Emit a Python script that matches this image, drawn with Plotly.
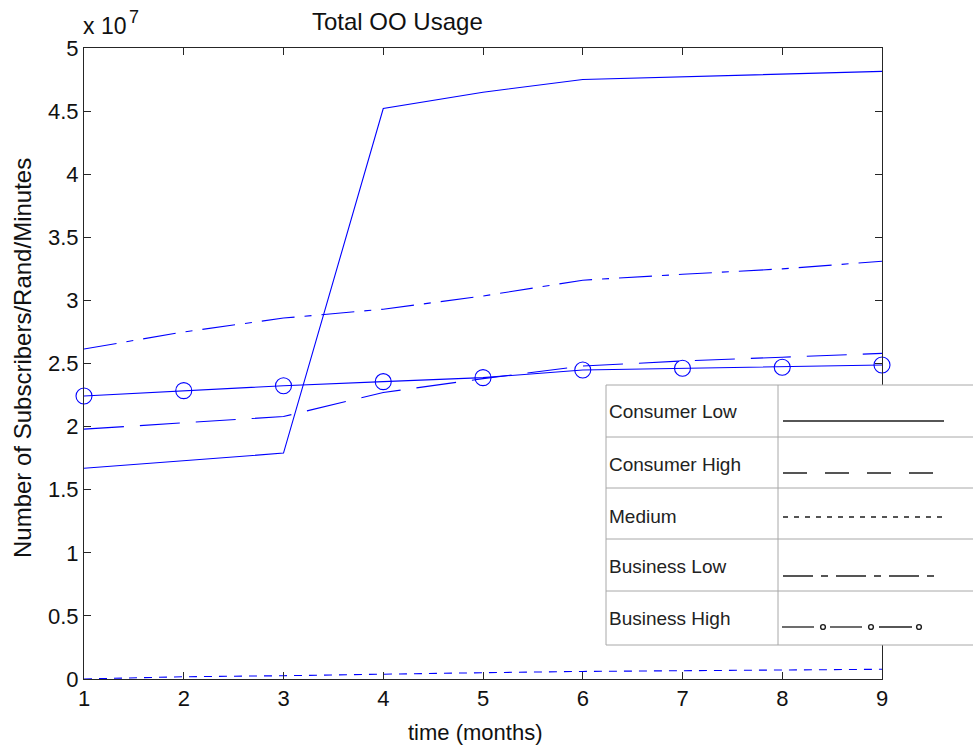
import plotly.graph_objects as go

# Monthly totals (months 1..9)
months = [1, 2, 3, 4, 5, 6, 7, 8, 9]
consumer_low = [1.67e7, 1.73e7, 1.79e7, 4.52e7, 4.65e7, 4.75e7, 4.77e7, 4.79e7, 4.815e7]
consumer_high = [1.98e7, 2.03e7, 2.08e7, 2.27e7, 2.38e7, 2.48e7, 2.52e7, 2.55e7, 2.58e7]
medium = [0.0, 0.018e7, 0.026e7, 0.04e7, 0.05e7, 0.06e7, 0.066e7, 0.072e7, 0.077e7]
business_low = [2.615e7, 2.75e7, 2.86e7, 2.93e7, 3.035e7, 3.16e7, 3.207e7, 3.25e7, 3.31e7]
business_high = [2.243e7, 2.285e7, 2.324e7, 2.356e7, 2.388e7, 2.449e7, 2.462e7, 2.47e7, 2.488e7]

y_tick_vals = [0, 0.5e7, 1e7, 1.5e7, 2e7, 2.5e7, 3e7, 3.5e7, 4e7, 4.5e7, 5e7]
y_tick_text = ["0", "0.5", "1", "1.5", "2", "2.5", "3", "3.5", "4", "4.5", "5"]

legend_labels = ["Consumer Low", "Consumer High", "Medium", "Business Low", "Business High"]

W, H = 973, 749
L, R, T, B = 84, 882, 48, 679  # plot area in pixels
FONT = "Liberation Sans, Arial, sans-serif"
BLUE = "#0000ff"


def px(x):
    return (x - L) / (R - L)


def py(y):
    return (B - y) / (B - T)


fig = go.Figure()
line_w = 1.1
fig.add_trace(go.Scatter(x=months, y=medium, mode="lines",
                         line=dict(color=BLUE, width=line_w, dash="8px,7px")))
fig.add_trace(go.Scatter(x=months, y=consumer_low, mode="lines",
                         line=dict(color=BLUE, width=line_w)))
fig.add_trace(go.Scatter(x=months, y=consumer_high, mode="lines",
                         line=dict(color=BLUE, width=line_w, dash="40px,16px")))
fig.add_trace(go.Scatter(x=months, y=business_low, mode="lines",
                         line=dict(color=BLUE, width=line_w, dash="33px,10px,7px,10px")))
fig.add_trace(go.Scatter(x=months, y=business_high, mode="lines+markers",
                         line=dict(color=BLUE, width=line_w),
                         marker=dict(symbol="circle-open", size=16, color=BLUE,
                                     line=dict(color=BLUE, width=1.1)),
                         cliponaxis=False))

axis_common = dict(showline=True, linecolor="#262626", linewidth=1, mirror="ticks",
                   ticks="inside", ticklen=7, tickcolor="#262626", tickwidth=1,
                   showgrid=False, zeroline=False,
                   tickfont=dict(family=FONT, size=22, color="#111"))

fig.update_layout(
    width=W, height=H, autosize=False,
    margin=dict(l=L, r=W - R, t=T, b=H - B, pad=0),
    paper_bgcolor="white", plot_bgcolor="white",
    showlegend=False,
    xaxis=dict(range=[1, 9], tickvals=months, ticktext=[str(m) for m in months], **axis_common),
    yaxis=dict(range=[0, 5e7], tickvals=y_tick_vals, ticktext=y_tick_text, **axis_common),
)

annotations = []
shapes = []

# Title, axis titles and exponent label
annotations.append(dict(text="Total OO Usage", x=px(397), y=py(21), xref="paper", yref="paper",
                        showarrow=False, xanchor="center", yanchor="middle",
                        font=dict(family=FONT, size=24, color="#111")))
annotations.append(dict(text="time (months)", x=px(475), y=py(732), xref="paper", yref="paper",
                        showarrow=False, xanchor="center", yanchor="middle",
                        font=dict(family=FONT, size=22, color="#111")))
annotations.append(dict(text="Number of Subscribers/Rand/Minutes", x=px(22), y=py(358),
                        xref="paper", yref="paper", showarrow=False, textangle=-90,
                        xanchor="center", yanchor="middle",
                        font=dict(family=FONT, size=24, color="#111")))
annotations.append(dict(text="x 10", x=px(81), y=py(41), xref="paper", yref="paper",
                        showarrow=False, xanchor="left", yanchor="bottom",
                        font=dict(family=FONT, size=23, color="#111")))
annotations.append(dict(text="7", x=px(127), y=py(29), xref="paper", yref="paper",
                        showarrow=False, xanchor="left", yanchor="bottom",
                        font=dict(family=FONT, size=18, color="#111")))

# Legend table
GRID = "#a8a8a8"
tx0, tx1, tcol = 606, 990, 778
row_edges = [385, 437, 488, 539, 591, 645]
shapes.append(dict(type="rect", xref="paper", yref="paper", layer="above",
                   x0=px(tx0), x1=px(tx1), y0=py(row_edges[-1]), y1=py(row_edges[0]),
                   fillcolor="white", line=dict(color=GRID, width=1)))
for ry in row_edges[1:-1]:
    shapes.append(dict(type="line", xref="paper", yref="paper", layer="above",
                       x0=px(tx0), x1=px(tx1), y0=py(ry), y1=py(ry),
                       line=dict(color=GRID, width=1)))
shapes.append(dict(type="line", xref="paper", yref="paper", layer="above",
                   x0=px(tcol), x1=px(tcol), y0=py(row_edges[0]), y1=py(row_edges[-1]),
                   line=dict(color=GRID, width=1)))

label_y = [411, 464, 516, 566, 618]
for lab, ly in zip(legend_labels, label_y):
    annotations.append(dict(text=lab, x=px(607), y=py(ly), xref="paper", yref="paper",
                            showarrow=False, xanchor="left", yanchor="middle",
                            font=dict(family=FONT, size=19, color="#222")))

SAMPLE = "#1e1e1e"
sw = 1.3
sample_specs = [(421, 944, "solid"), (473, 944, "24px,18px"), (517, 943, "5px,6px"),
                (576, 939, "30px,8px,7px,8px")]
for sy, sx1, dash in sample_specs:
    shapes.append(dict(type="line", xref="paper", yref="paper", layer="above",
                       x0=px(783), x1=px(sx1), y0=py(sy), y1=py(sy),
                       line=dict(color=SAMPLE, width=sw, dash=dash)))
# line-with-circles sample
bh_y = 627
for s0, s1, c in [(782, 814, 823), (830, 862, 871), (879, 912, 919)]:
    shapes.append(dict(type="line", xref="paper", yref="paper", layer="above",
                       x0=px(s0), x1=px(s1), y0=py(bh_y), y1=py(bh_y),
                       line=dict(color=SAMPLE, width=sw)))
    shapes.append(dict(type="circle", xref="paper", yref="paper", layer="above",
                       x0=px(c - 2.4), x1=px(c + 2.4), y0=py(bh_y + 2.4), y1=py(bh_y - 2.4),
                       line=dict(color=SAMPLE, width=1.4), fillcolor="white"))

fig.update_layout(annotations=annotations, shapes=shapes)
fig.write_html("out.html")
